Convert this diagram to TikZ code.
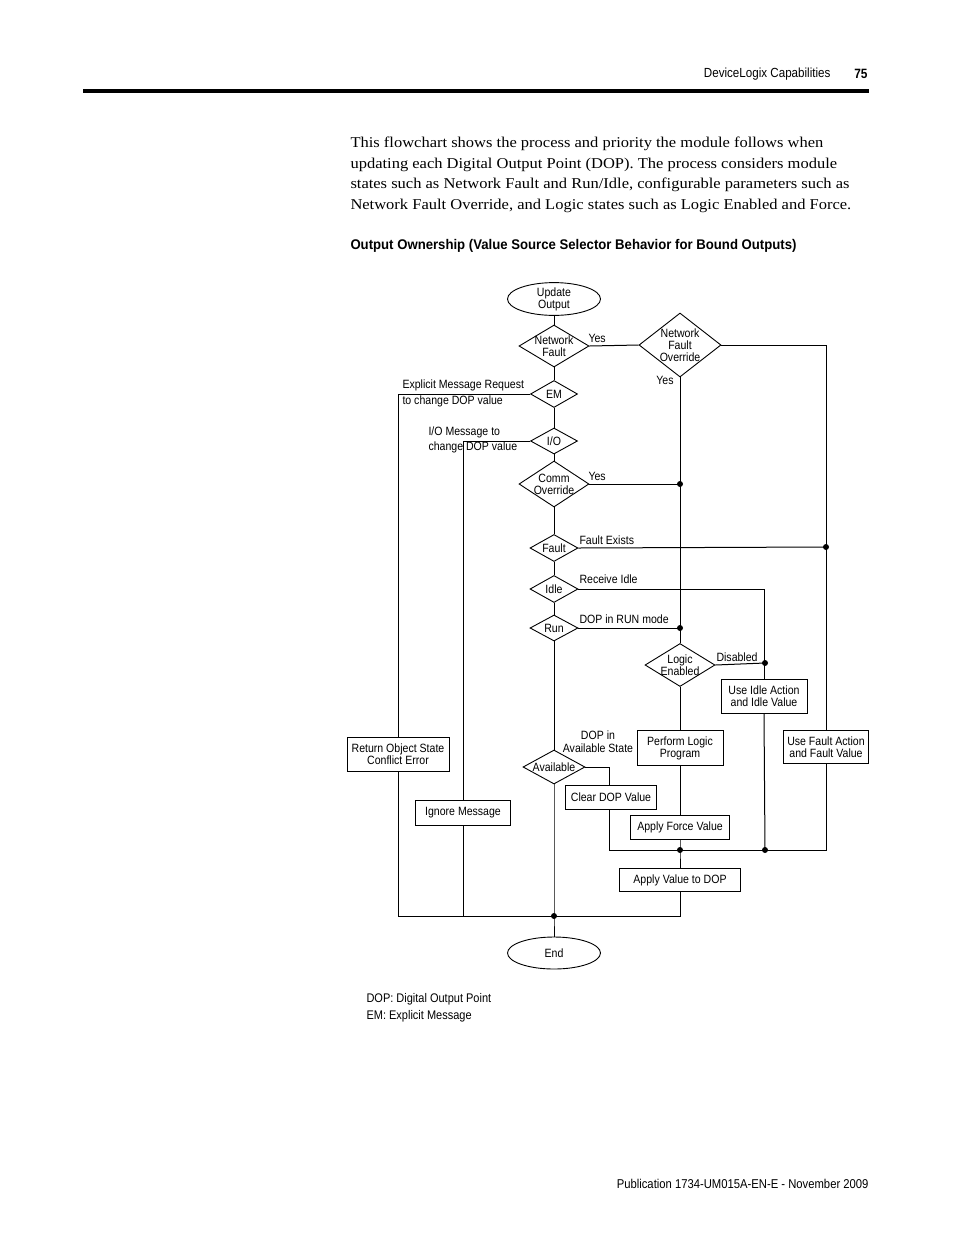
\documentclass[tikz,border=0pt]{standalone}
\usepackage{fontspec}
\setmainfont{Liberation Serif}
\newfontfamily\bodyfont[FakeStretch=1.1]{Liberation Serif}
\newfontfamily\cond[FakeStretch=0.88]{Liberation Sans}
\newfontfamily\condhead[FakeStretch=0.94]{Liberation Sans}
\usetikzlibrary{shapes.geometric}
\tikzset{
  dfont/.style={font=\cond\fontsize{12}{12}\selectfont},
  dia/.style={diamond, draw, inner sep=0pt, line width=0.9pt},
  box/.style={rectangle, draw, inner sep=0pt, align=center, line width=0.9pt},
  term/.style={ellipse, draw, inner sep=0pt, align=center, line width=0.9pt},
  lbl/.style={anchor=west, inner sep=0pt},
  clbl/.style={inner sep=0pt, align=center},
  dot/.style={circle, fill, inner sep=0pt, minimum size=6pt},
  body/.style={anchor=west, inner sep=0pt, font=\bodyfont\fontsize{15}{15}\selectfont},
  every label/.style={align=center, inner sep=0pt},
}
\begin{document}
\begin{tikzpicture}[x=1pt, y=-1pt, dfont, line width=1pt]
\fill[white] (0,0) rectangle (954,1235);
\useasboundingbox (0,0) rectangle (954,1235);

% page header
\node[anchor=east, inner sep=0pt, font=\cond\fontsize{13.2}{13}\selectfont] (hdr) at (831,74) {DeviceLogix Capabilities};
\node[anchor=east, inner sep=0pt, font=\cond\bfseries\fontsize{13.5}{13}\selectfont] (pg) at (868,74) {75};
\coordinate (rl) at (83,91);
\coordinate (rr) at (869,91);
\draw[line width=3.5pt] (rl) -- (rr);

% body text
\node[body] (t1) at (350,144) {This flowchart shows the process and priority the module follows when};
\node[body] (t2) at (350,165) {updating each Digital Output Point (DOP). The process considers module};
\node[body] (t3) at (350,185) {states such as Network Fault and Run/Idle, configurable parameters such as};
\node[body] (t4) at (350,206) {Network Fault Override, and Logic states such as Logic Enabled and Force.};
\node[anchor=west, inner sep=0pt, font=\condhead\bfseries\fontsize{14}{14}\selectfont] (ttl) at (350,246) {Output Ownership (Value Source Selector Behavior for Bound Outputs)};

% flowchart nodes
\node[term, minimum width=93pt, minimum height=30pt] (start) at (554,299) {Update\\Output};
\node[dia, minimum width=70pt, minimum height=42pt, label={center:Network\\Fault}] (nf) at (554,346) {};
\node[dia, minimum width=82pt, minimum height=64pt, label={center:Network\\Fault\\Override}] (nfo) at (680,345) {};
\node[dia, minimum width=47pt, minimum height=27pt, label={center:EM}] (em) at (554,394) {};
\node[dia, minimum width=47pt, minimum height=26pt, label={center:I/O}] (io) at (554,441) {};
\node[dia, minimum width=70pt, minimum height=46pt, label={center:Comm\\Override}] (co) at (554,484) {};
\node[dia, minimum width=48pt, minimum height=27pt, label={center:Fault}] (fault) at (554,548) {};
\node[dia, minimum width=48pt, minimum height=27pt, label={center:Idle}] (idle) at (554,589) {};
\node[dia, minimum width=48pt, minimum height=26pt, label={center:Run}] (run) at (554,628) {};
\node[dia, minimum width=70pt, minimum height=43pt, label={center:Logic\\Enabled}] (le) at (680,665) {};
\node[dia, minimum width=62pt, minimum height=34pt, label={center:Available}] (avail) at (554,767) {};

\node[box, minimum width=86pt, minimum height=34pt] (idlebox) at (764,696) {Use Idle Action\\and Idle Value};
\node[box, minimum width=85pt, minimum height=33pt] (faultbox) at (826,747) {Use Fault Action\\and Fault Value};
\node[box, minimum width=86pt, minimum height=35pt] (perf) at (680,748) {Perform Logic\\Program};
\node[box, minimum width=99pt, minimum height=24pt] (force) at (680,827) {Apply Force Value};
\node[box, minimum width=91pt, minimum height=24pt] (clear) at (611,797) {Clear DOP Value};
\node[box, minimum width=121pt, minimum height=23pt] (apply) at (680,880) {Apply Value to DOP};
\node[box, minimum width=102pt, minimum height=34pt] (ret) at (398,754) {Return Object State\\Conflict Error};
\node[box, minimum width=95pt, minimum height=25pt] (ign) at (463,813) {Ignore Message};
\node[term, minimum width=93pt, minimum height=32pt] (end) at (554,953) {End};

% junctions
\coordinate (j1) at (680,484);
\coordinate (j2) at (826,547);
\coordinate (j3) at (680,628);
\coordinate (j4) at (765,663);
\coordinate (j5) at (680,850);
\coordinate (j6) at (765,850);
\coordinate (j7) at (554,916);
\coordinate (cl) at (609,850);

% labels
\node[lbl] (y1) at (588,338) {Yes};
\node[clbl] (y2) at (665,380) {Yes};
\node[lbl] (e1) at (402,385) {Explicit Message Request};
\node[lbl] (e2) at (402,401) {to change DOP value};
\node[lbl] (i1) at (428,432) {I/O Message to};
\node[lbl] (i2) at (428,447) {change DOP value};
\node[lbl] (y3) at (588,476) {Yes};
\node[lbl] (fe) at (579,540) {Fault Exists};
\node[lbl] (ri) at (579,579) {Receive Idle};
\node[lbl] (dr) at (579,619) {DOP in RUN mode};
\node[lbl] (dis) at (716,657) {Disabled};
\node[clbl] (da1) at (598,735) {DOP in};
\node[clbl] (da2) at (598,748) {Available State};

% main column
\draw (start) -- (nf);
\draw (nf) -- (em);
\draw (em) -- (io);
\draw (io) -- (co);
\draw (co) -- (fault);
\draw (fault) -- (idle);
\draw (idle) -- (run);
\draw (run) -- (avail);
\draw (avail) -- (j7) -- (end);

% network fault branch
\draw (nf.east) -- (nfo.west);
\draw (nfo.east) -| (faultbox.north);
\draw (nfo.south) -- (le.north);
\draw (co.east) -- (j1);
\draw (fault.east) -- (j2);
\draw (idle.east) -| (idlebox.north);
\draw (run.east) -- (j3);
\draw (le.east) -- (j4);
\draw (le.south) -- (perf.north);
\draw (perf.south) -- (force.north);
\draw (force.south) -- (j5) -- (apply.north);
\draw (idlebox.south) -- (j6);
\draw (faultbox.south) |- (j6) -- (j5) -- (cl) -- (cl |- clear.south);
\draw (avail.east) -| (cl |- clear.north);

% message branches
\draw (em.west) -| (ret.north);
\draw (io.west) -| (ign.north);
\draw (ret.south) |- (j7);
\draw (ign.south) -- (ign.south |- j7);
\draw (apply.south) |- (j7);

% dots
\foreach \j in {j1,j2,j3,j4,j5,j6,j7} \node[dot] at (\j) {};

% legend and footer
\node[lbl, font=\cond\fontsize{12.5}{13}\selectfont] (lg1) at (366,999) {DOP: Digital Output Point};
\node[lbl, font=\cond\fontsize{12.5}{13}\selectfont] (lg2) at (366,1016) {EM: Explicit Message};
\node[anchor=east, inner sep=0pt, font=\cond\fontsize{12.8}{13}\selectfont] (ft) at (869,1184) {Publication 1734-UM015A-EN-E - November 2009};
\end{tikzpicture}
\end{document}
